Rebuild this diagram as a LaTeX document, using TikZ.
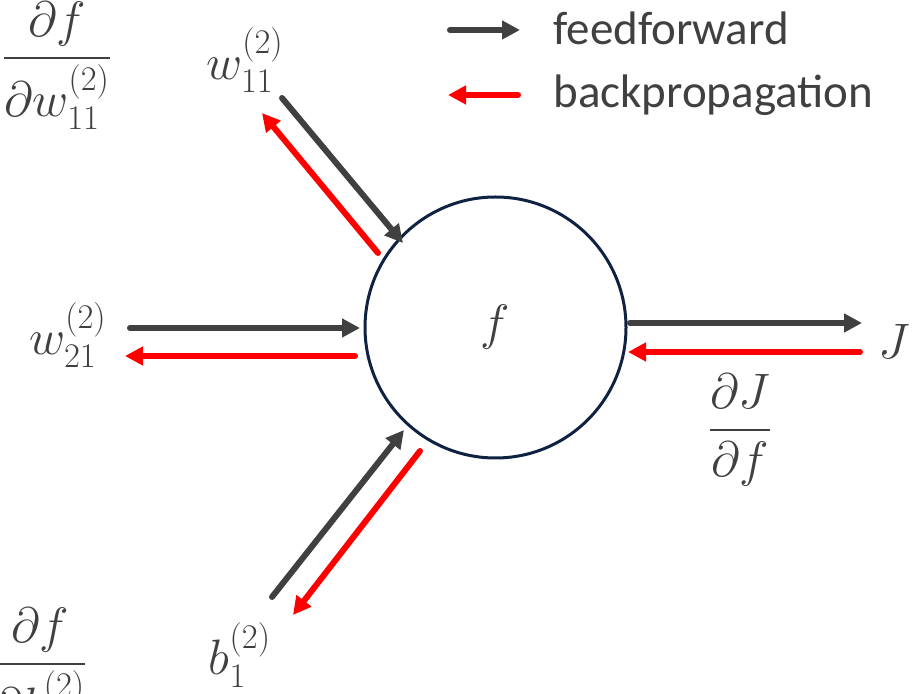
\documentclass[tikz,border=0pt]{standalone}
\usepackage{amsmath}
\usepackage[no-math]{fontspec}
\setmainfont{Carlito}
\usetikzlibrary{arrows.meta}
\definecolor{ffgray}{HTML}{404040}
\definecolor{bpred}{HTML}{FF0000}
\definecolor{cellnavy}{HTML}{0F2242}

\begin{document}
\begin{tikzpicture}[
  x=0.5pt, y=-0.5pt,
  neuron/.style={circle, draw=cellnavy, line width=1.5pt, minimum size=130.5pt, inner sep=0pt, text=ffgray, font=\fontsize{30}{36}\selectfont},
  lbl/.style={inner sep=0pt, text=ffgray, font=\fontsize{24}{29}\selectfont},
  legend/.style={inner sep=0pt, anchor=base west, text=ffgray, font=\fontsize{23.5}{28}\selectfont},
  ffarrow/.style={draw=ffgray, line width=3pt, line cap=round, -{Triangle[length=9pt, width=9pt]}},
  bparrow/.style={ffarrow, draw=bpred, fill=bpred}
]
\useasboundingbox (0,0) rectangle (915,694);

% neuron and labels
\node[neuron] (f) at (495.5,327.5) {$f$};
\node[lbl] (w11) at (245,60) {$w_{11}^{(2)}$};
\node[lbl] (w21) at (68,335) {$w_{21}^{(2)}$};
\node[lbl] (b1) at (240,655) {$b_{1}^{(2)}$};
\node[lbl] (J) at (894,342) {$J$};
\node[lbl] (dJdf) at (740,430) {$\dfrac{\partial J}{\partial f}$};
\node[lbl] (dfdw) at (57,66) {$\dfrac{\partial f}{\partial w_{11}^{(2)}}$};
\node[lbl] (dfdb) at (40,672) {$\dfrac{\partial f}{\partial b_{1}^{(2)}}$};

% arrow end points
\coordinate (w11ff) at (282,98);   \coordinate (fw11ff) at (403,243);
\coordinate (fw11bp) at (378,253); \coordinate (w11bp) at (262,113);
\coordinate (w21ff) at (130,328);  \coordinate (fw21ff) at (360,328);
\coordinate (fw21bp) at (355,356); \coordinate (w21bp) at (125,356);
\coordinate (fJff) at (630,323);   \coordinate (Jff) at (862,323);
\coordinate (Jbp) at (860,352);    \coordinate (fJbp) at (628,352);
\coordinate (b1ff) at (272,597);   \coordinate (fb1ff) at (404,430);
\coordinate (fb1bp) at (420,451);  \coordinate (b1bp) at (293,615);

% feedforward
\draw[ffarrow] (w11ff) -- (fw11ff);
\draw[ffarrow] (w21ff) -- (fw21ff);
\draw[ffarrow] (b1ff) -- (fb1ff);
\draw[ffarrow] (fJff) -- (Jff);

% backpropagation
\draw[bparrow] (Jbp) -- (fJbp);
\draw[bparrow] (fw11bp) -- (w11bp);
\draw[bparrow] (fw21bp) -- (w21bp);
\draw[bparrow] (fb1bp) -- (b1bp);

% legend
\coordinate (legff1) at (450,30);  \coordinate (legff2) at (520,30);
\coordinate (legbp1) at (518,95);  \coordinate (legbp2) at (448,95);
\draw[ffarrow] (legff1) -- (legff2);
\draw[bparrow] (legbp1) -- (legbp2);
\node[legend] (fftext) at (553,45) {feedforward};
\node[legend] (bptext) at (553,108) {backpropagation};
\end{tikzpicture}
\end{document}
